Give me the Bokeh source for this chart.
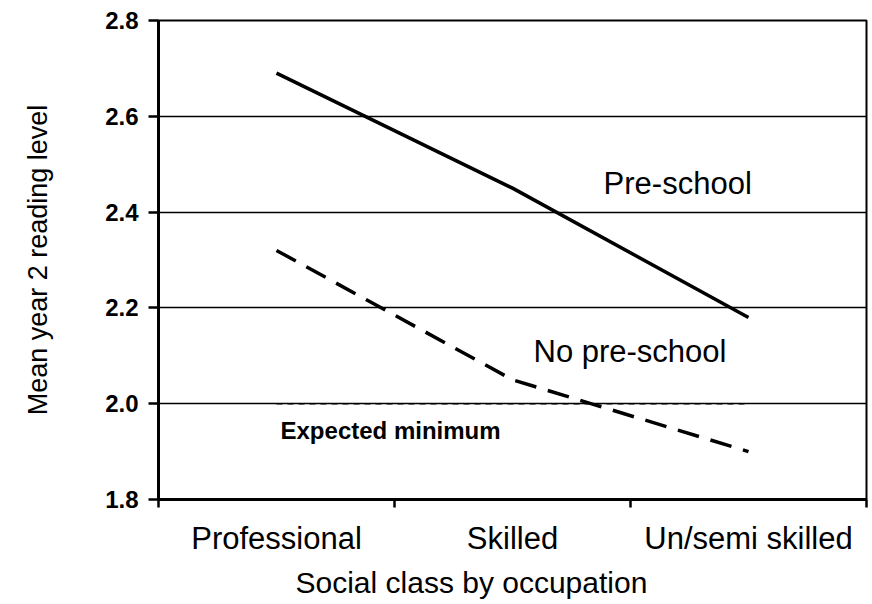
from bokeh.plotting import figure
from bokeh.models import FixedTicker, Range1d, Label, Title
from bokeh.embed import file_html
from bokeh.resources import INLINE

# ---- data ----
categories = ["Professional", "Skilled", "Un/semi skilled"]
preschool = [2.69, 2.45, 2.18]
no_preschool = [2.32, 2.05, 1.90]
expected_minimum = 2.0
y_ticks = [1.8, 2.0, 2.2, 2.4, 2.6, 2.8]
y_tick_labels = ["1.8", "2.0", "2.2", "2.4", "2.6", "2.8"]
series_names = ["Pre-school", "No pre-school", "Expected minimum"]
x_title = "Social class by occupation"
y_title = "Mean year 2 reading level"

FONT = "Liberation Sans"
n = len(categories)
xc = [i + 0.5 for i in range(n)]

p = figure(width=870, height=604,
           x_range=Range1d(0, n), y_range=Range1d(y_ticks[0], y_ticks[-1]),
           output_backend="svg", toolbar_location=None,
           min_border_left=158, min_border_right=4,
           min_border_top=20, min_border_bottom=105)
p.background_fill_color = "white"
p.border_fill_color = "white"
p.outline_line_color = "black"
p.outline_line_width = 2

# grid
p.xgrid.visible = False
p.ygrid.ticker = FixedTicker(ticks=y_ticks)
p.ygrid.grid_line_color = "black"
p.ygrid.grid_line_width = 1.5
p.ygrid.grid_line_alpha = 1.0

# x axis
xa = p.xaxis[0]
xa.ticker = FixedTicker(ticks=xc, minor_ticks=list(range(n + 1)))
xa.major_label_overrides = {v: c for v, c in zip(xc, categories)}
xa.major_tick_out = 0
xa.major_tick_in = 0
xa.minor_tick_out = 8
xa.minor_tick_in = 0
xa.minor_tick_line_width = 2.5
xa.minor_tick_line_color = "black"
xa.axis_line_width = 3
xa.axis_line_color = "black"
xa.major_label_text_font = FONT
xa.major_label_text_font_size = "31px"
xa.major_label_text_color = "black"
xa.major_label_standoff = 13

# x axis title, placed a little left of centre like the original
p.add_layout(Title(text=x_title, align="left", offset=137, standoff=11,
                   text_font=FONT, text_font_size="30px",
                   text_font_style="normal", text_color="black"), "below")

# y axis
ya = p.yaxis[0]
ya.ticker = FixedTicker(ticks=y_ticks)
ya.major_label_overrides = {v: s for v, s in zip(y_ticks, y_tick_labels)}
ya.major_tick_out = 10
ya.major_tick_in = 0
ya.major_tick_line_width = 2.5
ya.major_tick_line_color = "black"
ya.minor_tick_out = 0
ya.minor_tick_in = 0
ya.axis_line_width = 3
ya.axis_line_color = "black"
ya.major_label_text_font = FONT
ya.major_label_text_font_size = "24px"
ya.major_label_text_font_style = "bold"
ya.major_label_text_color = "black"
ya.major_label_standoff = 10
ya.axis_label = y_title
ya.axis_label_text_font = FONT
ya.axis_label_text_font_size = "27px"
ya.axis_label_text_font_style = "normal"
ya.axis_label_text_color = "black"
ya.axis_label_standoff = 49

# expected minimum reference line (short dashes)
p.line(x=[xc[0], xc[-1]], y=[expected_minimum, expected_minimum],
       line_color="black", line_width=1.5, line_dash="6 5")

# series
p.line(x=xc, y=preschool, line_color="black", line_width=3.5)
p.line(x=xc, y=no_preschool, line_color="black", line_width=3.5,
       line_dash="22 12")

# labels
p.add_layout(Label(x=1.886, y=2.46, text=series_names[0],
                   text_font=FONT, text_font_size="31px",
                   text_baseline="middle", text_align="left", text_color="black"))
p.add_layout(Label(x=1.589, y=2.109, text=series_names[1],
                   text_font=FONT, text_font_size="31px",
                   text_baseline="middle", text_align="left", text_color="black"))
p.add_layout(Label(x=0.517, y=1.944, text=series_names[2],
                   text_font=FONT, text_font_size="24px", text_font_style="bold",
                   text_baseline="middle", text_align="left", text_color="black"))

open("out.html", "w").write(file_html(p, INLINE))
